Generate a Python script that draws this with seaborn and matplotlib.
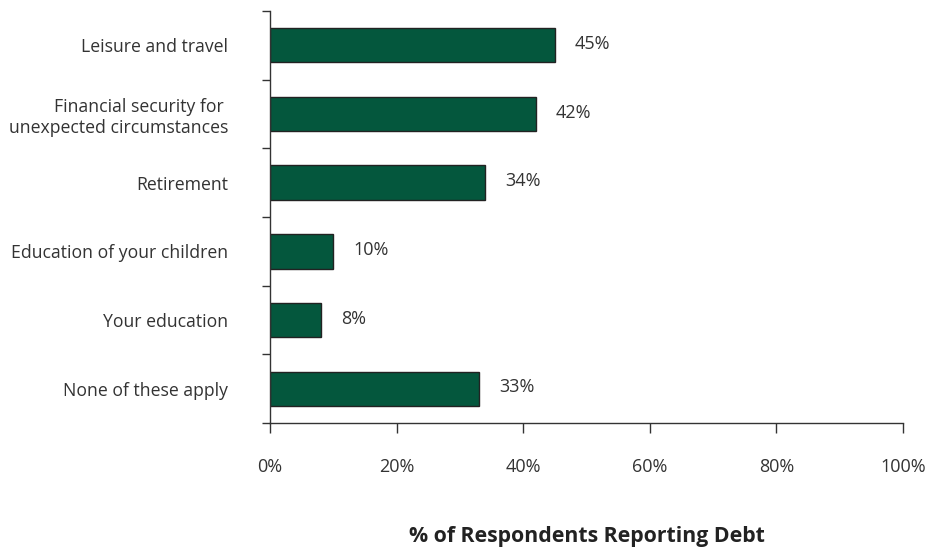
import matplotlib
matplotlib.use("Agg")
import matplotlib.pyplot as plt
from matplotlib.ticker import FixedLocator, PercentFormatter
import numpy as np
import pandas as pd
import seaborn as sns

categories = [
    "Leisure and travel",
    "Financial security for \nunexpected circumstances",
    "Retirement",
    "Education of your children",
    "Your education",
    "None of these apply",
]
values = [45, 42, 34, 10, 8, 33]
x_ticks = [0, 20, 40, 60, 80, 100]

sns.set_theme(style="white")
plt.rcParams["font.family"] = ["Open Sans", "DejaVu Sans"]

df = pd.DataFrame({"reason": categories, "pct": values})

fig = plt.figure(figsize=(9.28, 5.48), dpi=100)
ax = fig.add_axes([0.291, 0.228, 0.682, 0.752])

sns.barplot(data=df, y="reason", x="pct", orient="h", color="#04573D",
            edgecolor="#222222", linewidth=1.0, width=0.5, saturation=1, ax=ax)

text_color = "#333333"
for i, v in enumerate(values):
    ax.text(v + 3.2, i - 0.02, f"{v}%", va="center", ha="left",
            fontsize=13, color=text_color)

ax.set_xlim(0, 100)
ax.set_ylim(len(categories) - 0.5, -0.5)
ax.set_xticks(x_ticks)
ax.xaxis.set_major_formatter(PercentFormatter(decimals=0))

# category boundaries carry the tick marks on the y axis
ax.yaxis.set_minor_locator(FixedLocator(np.arange(-0.5, len(categories), 1.0)))
ax.tick_params(axis="y", which="major", length=0, pad=30,
               labelsize=12.7, labelcolor=text_color)
ax.tick_params(axis="y", which="minor", left=True, length=6, width=1,
               color="#333333", direction="out")
ax.tick_params(axis="x", which="major", bottom=True, length=7, width=1,
               color="#333333", direction="out", pad=18,
               labelsize=13, labelcolor=text_color)
for lbl in ax.get_yticklabels():
    lbl.set_horizontalalignment("right")
    lbl.set_multialignment("right")

for side in ["top", "right"]:
    ax.spines[side].set_visible(False)
for side in ["left", "bottom"]:
    ax.spines[side].set_color("#333333")
    ax.spines[side].set_linewidth(1)

ax.set_ylabel("")
ax.set_xlabel("% of Respondents Reporting Debt", fontsize=15.3,
              fontweight="bold", color="#222222", labelpad=36)

fig.savefig("out.png", dpi=100)
